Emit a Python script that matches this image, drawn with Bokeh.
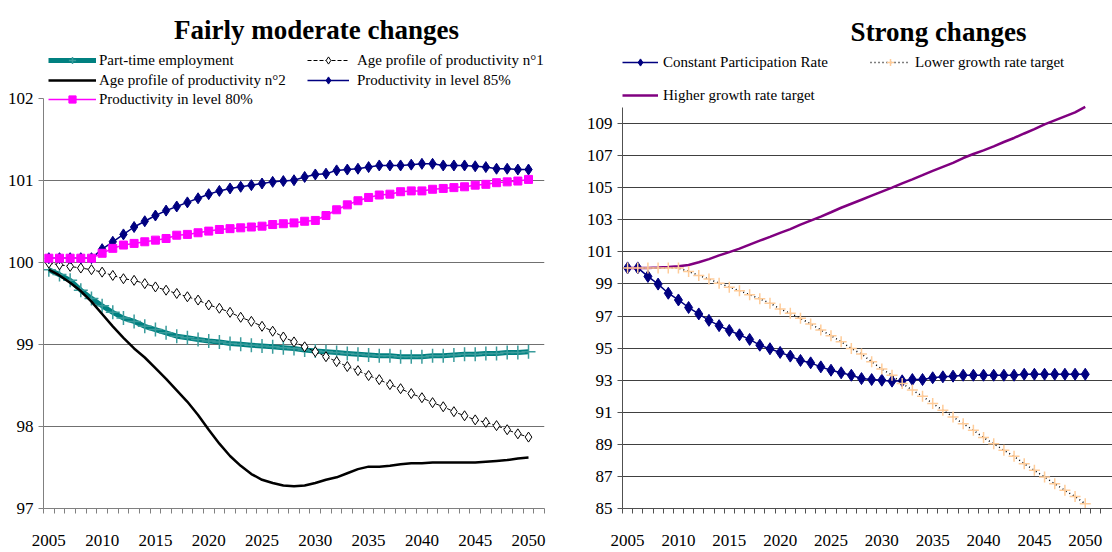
from bokeh.plotting import figure
from bokeh.models import Range1d, FixedTicker, Legend, LegendItem, Label
from bokeh.layouts import row
from bokeh.embed import file_html
from bokeh.resources import INLINE

# ---------------- data ----------------
years = list(range(2005, 2051))

part_time = [99.91, 99.85, 99.78, 99.66, 99.56, 99.47, 99.39, 99.32, 99.28, 99.22,
             99.18, 99.14, 99.10, 99.08, 99.06, 99.04, 99.03, 99.01, 99.00, 98.99,
             98.98, 98.97, 98.96, 98.95, 98.93, 98.92, 98.91, 98.90, 98.89, 98.88,
             98.87, 98.86, 98.86, 98.85, 98.85, 98.85, 98.86, 98.86, 98.87, 98.88,
             98.88, 98.89, 98.89, 98.90, 98.90, 98.91]
age_profile_1 = [99.99, 99.97, 99.95, 99.93, 99.91, 99.88, 99.84, 99.80, 99.78, 99.74,
                 99.70, 99.66, 99.62, 99.58, 99.54, 99.48, 99.44, 99.39, 99.33, 99.28,
                 99.22, 99.16, 99.09, 99.03, 98.97, 98.91, 98.85, 98.79, 98.73, 98.68,
                 98.62, 98.57, 98.51, 98.46, 98.40, 98.35, 98.29, 98.24, 98.18, 98.13,
                 98.08, 98.05, 98.01, 97.96, 97.91, 97.87]
age_profile_2 = [99.91, 99.84, 99.75, 99.65, 99.52, 99.37, 99.22, 99.08, 98.95, 98.84,
                 98.71, 98.58, 98.44, 98.30, 98.14, 97.96, 97.79, 97.64, 97.52, 97.42,
                 97.35, 97.31, 97.28, 97.27, 97.28, 97.31, 97.35, 97.38, 97.43, 97.48,
                 97.51, 97.51, 97.52, 97.54, 97.55, 97.55, 97.56, 97.56, 97.56, 97.56,
                 97.56, 97.57, 97.58, 97.59, 97.61, 97.62]
prod_85 = [100.05, 100.05, 100.05, 100.05, 100.05, 100.16, 100.25, 100.34, 100.43, 100.50,
           100.57, 100.63, 100.68, 100.73, 100.78, 100.83, 100.87, 100.90, 100.92, 100.94,
           100.96, 100.98, 100.99, 101.00, 101.04, 101.07, 101.08, 101.12, 101.13, 101.14,
           101.16, 101.18, 101.18, 101.18, 101.19, 101.20, 101.20, 101.18, 101.18, 101.18,
           101.17, 101.16, 101.14, 101.14, 101.13, 101.13]
prod_80 = [100.05, 100.05, 100.05, 100.05, 100.05, 100.11, 100.17, 100.21, 100.23, 100.25,
           100.27, 100.29, 100.33, 100.34, 100.36, 100.38, 100.40, 100.41, 100.42, 100.43,
           100.44, 100.46, 100.47, 100.48, 100.50, 100.51, 100.57, 100.64, 100.70, 100.75,
           100.79, 100.82, 100.83, 100.86, 100.87, 100.87, 100.89, 100.90, 100.91, 100.92,
           100.94, 100.95, 100.97, 100.98, 100.99, 101.01]

constant_participation = [100.0, 100.0, 99.47, 98.99, 98.42, 98.00, 97.53, 97.13, 96.73, 96.40,
                          96.10, 95.83, 95.54, 95.18, 94.96, 94.73, 94.50, 94.23, 94.08, 93.83,
                          93.62, 93.46, 93.31, 93.10, 93.04, 93.00, 92.94, 92.96, 93.04, 93.04,
                          93.15, 93.21, 93.25, 93.31, 93.31, 93.31, 93.31, 93.31, 93.31, 93.37,
                          93.37, 93.37, 93.37, 93.37, 93.37, 93.37]
lower_growth = [100.0, 100.0, 100.0, 100.0, 100.0, 99.99, 99.78, 99.53, 99.30, 99.05,
                98.80, 98.58, 98.33, 98.07, 97.80, 97.44, 97.17, 96.86, 96.50, 96.13,
                95.77, 95.40, 94.98, 94.63, 94.15, 93.69, 93.31, 92.79, 92.38, 92.00,
                91.54, 91.13, 90.71, 90.29, 89.88, 89.42, 89.04, 88.63, 88.25, 87.79,
                87.38, 86.96, 86.54, 86.13, 85.75, 85.29]
higher_growth = [100.0, 100.0, 100.0, 100.02, 100.05, 100.10, 100.18, 100.35, 100.55, 100.78,
                 100.98, 101.20, 101.45, 101.70, 101.93, 102.18, 102.42, 102.70, 102.95, 103.20,
                 103.47, 103.75, 104.00, 104.25, 104.50, 104.75, 105.00, 105.27, 105.52, 105.78,
                 106.05, 106.30, 106.55, 106.85, 107.10, 107.33, 107.58, 107.85, 108.10, 108.38,
                 108.65, 108.95, 109.20, 109.45, 109.70, 110.04]

left_yticks = [97, 98, 99, 100, 101, 102]
right_yticks = list(range(85, 110, 2))
x_label_years = list(range(2005, 2051, 5))

AX_FONT = "Liberation Sans Narrow"
AX_SIZE = "17px"
SERIF = "Liberation Serif"


def style_axes(p, yticks, grid_ticks, axis_color, grid_color, y_bounds):
    p.outline_line_color = None
    p.background_fill_color = "white"
    p.border_fill_color = "white"
    xa = p.xaxis[0]
    xa.ticker = FixedTicker(ticks=x_label_years,
                            minor_ticks=[2004.5 + i for i in range(48)])
    xa.major_tick_out = 0
    xa.major_tick_in = 0
    xa.minor_tick_out = 5
    xa.minor_tick_in = 0
    xa.minor_tick_line_color = axis_color
    xa.axis_line_color = axis_color
    xa.major_label_standoff = 21
    xa.major_label_text_font = AX_FONT
    xa.major_label_text_font_size = AX_SIZE
    xa.major_label_text_color = "black"
    ya = p.yaxis[0]
    ya.ticker = FixedTicker(ticks=yticks, minor_ticks=[])
    ya.major_tick_out = 5
    ya.major_tick_in = 0
    ya.major_tick_line_color = axis_color
    ya.minor_tick_line_color = None
    ya.axis_line_color = axis_color
    ya.major_label_standoff = 5
    ya.major_label_text_font = AX_FONT
    ya.major_label_text_font_size = AX_SIZE
    ya.major_label_text_color = "black"
    ya.bounds = y_bounds
    p.xgrid.visible = False
    p.ygrid.ticker = FixedTicker(ticks=grid_ticks)
    p.ygrid.grid_line_color = grid_color
    p.ygrid.grid_line_width = 1


def legend_item(p, label, renderers, x, y, glyph_w, standoff):
    lg = Legend(items=[LegendItem(label=label, renderers=renderers)],
                location=(x, y), orientation="vertical",
                padding=0, margin=0, spacing=0,
                glyph_width=glyph_w, glyph_height=18, label_height=18,
                label_standoff=standoff,
                label_text_font=SERIF, label_text_font_size="15px",
                label_text_color="black",
                border_line_color=None, background_fill_alpha=0)
    p.add_layout(lg, "center")


# ---------------- left chart ----------------
# frame spans page y 0..510 so titles/legends sit inside it
p1 = figure(width=560, height=552, x_range=Range1d(2004.5, 2051.5),
            y_range=Range1d(97, 103.19), output_backend="svg", toolbar_location=None,
            min_border_left=43, min_border_right=16, min_border_top=0,
            min_border_bottom=42)
style_axes(p1, left_yticks, [98, 99, 100, 101], "#808080", "#707070", (97, 102))

r_pt_l = p1.line(years, part_time, line_color="#008080", line_width=5)
r_pt_m = p1.scatter(years, part_time, marker="cross", size=14,
                    line_color="#3a9c9c", line_width=1.5)
r_a2 = p1.line(years, age_profile_2, line_color="black", line_width=2.5)
r_a1_l = p1.line(years, age_profile_1, line_color="black", line_width=1,
                 line_dash="4 2")
r_a1_m = p1.scatter(years, age_profile_1, marker="diamond", size=10,
                    fill_color="white", line_color="black", line_width=1)
r_85_l = p1.line(years, prod_85, line_color="#000080", line_width=1.5)
r_85_m = p1.scatter(years, prod_85, marker="diamond", size=11,
                    fill_color="#000080", line_color="#000080")
r_80_l = p1.line(years, prod_80, line_color="#FF00FF", line_width=1.5)
r_80_m = p1.scatter(years, prod_80, marker="square", size=8,
                    fill_color="#FF00FF", line_color="#FF00FF")

# left frame: left edge 43, bottom 510 (page px); location = bottom-left of item
legend_item(p1, "Part-time employment", [r_pt_l, r_pt_m], 5, 439, 48, 3)
legend_item(p1, "Age profile of productivity n°2", [r_a2], 5, 419, 48, 3)
legend_item(p1, "Productivity in level 80%", [r_80_l, r_80_m], 5, 400, 48, 3)
legend_item(p1, "Age profile of productivity n°1", [r_a1_l, r_a1_m], 264, 439, 42, 8)
legend_item(p1, "Productivity in level 85%", [r_85_l, r_85_m], 264, 419, 42, 8)

p1.add_layout(Label(x=273, y=479, x_units="screen", y_units="screen",
                    text="Fairly moderate changes", text_align="center",
                    text_baseline="alphabetic", text_font=SERIF,
                    text_font_style="bold", text_font_size="27px",
                    text_color="black"))

# ---------------- right chart ----------------
p2 = figure(width=552, height=552, x_range=Range1d(2004.5, 2052.68),
            y_range=Range1d(85, 116.67), output_backend="svg", toolbar_location=None,
            min_border_left=62, min_border_right=0, min_border_top=0,
            min_border_bottom=44)
style_axes(p2, right_yticks, list(range(87, 110, 2)), "#505050", "#404040", (85, 110))

r_cp_l = p2.line(years, constant_participation, line_color="#000080", line_width=1.5)
r_cp_m = p2.scatter(years, constant_participation, marker="diamond", size=12,
                    fill_color="#000080", line_color="#000080")
r_hg = p2.line(years, higher_growth, line_color="#800080", line_width=2.5)
r_lg_l = p2.line(years, lower_growth, line_color="black", line_width=1.5,
                 line_dash="1 3")
r_lg_m = p2.scatter(years, lower_growth, marker="cross", size=11,
                    line_color="#FFCC99", line_width=1.5)

# right frame: left edge 622, bottom 508 (page px)
legend_item(p2, "Constant Participation Rate", [r_cp_l, r_cp_m], 0, 437, 36, 5)
legend_item(p2, "Lower growth rate target", [r_lg_l, r_lg_m], 248, 437, 40, 5)
legend_item(p2, "Higher growth rate target", [r_hg], 0, 404, 36, 5)

p2.add_layout(Label(x=316, y=477, x_units="screen", y_units="screen",
                    text="Strong changes", text_align="center",
                    text_baseline="alphabetic", text_font=SERIF,
                    text_font_style="bold", text_font_size="27px",
                    text_color="black"))

layout = row(p1, p2)
open("out.html", "w").write(file_html(layout, INLINE))
